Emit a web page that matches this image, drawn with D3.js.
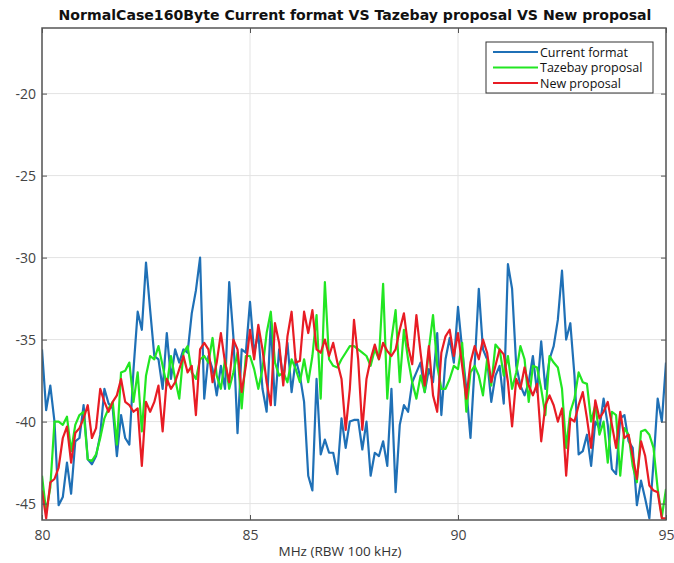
<!DOCTYPE html>
<html>
<head>
<meta charset="utf-8">
<script src="https://cdn.jsdelivr.net/npm/d3@7"></script>
<style>
  html, body { margin: 0; padding: 0; background: #fff; }
  svg { display: block; }
</style>
</head>
<body>
<div id="chart"></div>
<script>
// ---- Data (frequency 80..95 MHz, step 0.1 MHz) ----
const freqStart = 80;
const freqStep = 0.1;
const xTicks = [80, 85, 90, 95];
const yTicks = [-45, -40, -35, -30, -25, -20];
const xDomain = [80, 95];
const yDomain = [-46, -16];
const seriesNames = ["Current format", "Tazebay proposal", "New proposal"];
const seriesColors = ["#1f70b6", "#22e622", "#e81c24"];

const currentFormat = [
  -35.6,-39.3,-37.8,-40.0,-45.1,-44.6,-42.5,-44.4,-41.2,-41.0,
  -39.0,-42.3,-42.6,-42.1,-40.8,-38.0,-38.9,-39.2,-42.1,-39.6,
  -41.0,-41.4,-36.8,-33.3,-34.4,-30.3,-33.2,-36.0,-36.2,-38.0,
  -34.6,-37.4,-35.6,-36.4,-35.6,-35.8,-33.4,-32.0,-30.0,-38.6,
  -36.0,-36.8,-38.4,-36.6,-38.0,-31.5,-34.8,-40.7,-35.6,-35.8,
  -32.7,-35.8,-34.6,-38.0,-39.4,-33.9,-39.0,-35.6,-37.4,-35.2,
  -38.2,-36.2,-37.2,-38.8,-43.3,-44.2,-37.4,-42.0,-41.1,-41.9,
  -41.9,-43.2,-39.8,-41.6,-40.0,-39.9,-39.9,-41.7,-40.0,-43.3,
  -41.9,-42.1,-41.2,-42.7,-38.0,-44.3,-40.2,-39.0,-39.4,-37.6,
  -37.0,-36.4,-38.2,-36.8,-37.6,-34.6,-39.6,-36.2,-34.9,-36.4,
  -33.0,-35.6,-38.0,-41.0,-36.6,-31.9,-35.6,-36.2,-38.8,-37.2,
  -36.6,-38.9,-30.4,-31.9,-36.6,-37.8,-38.4,-37.6,-36.0,-38.2,
  -35.1,-38.0,-36.2,-35.4,-33.8,-30.8,-35.0,-34.0,-37.2,-42.0,
  -41.8,-40.8,-42.7,-40.0,-40.4,-38.6,-40.2,-42.9,-43.2,-39.8,
  -39.6,-41.2,-41.6,-45.1,-43.6,-44.7,-45.9,-42.5,-38.6,-40.0,
  -36.4
];
const tazebayProposal = [
  -43.3,-45.5,-44.0,-40.0,-40.0,-40.2,-39.7,-41.8,-40.2,-39.6,
  -39.4,-42.3,-42.4,-42.0,-41.0,-39.8,-39.2,-38.8,-41.4,-37.0,
  -36.9,-36.4,-38.8,-37.0,-40.6,-37.2,-36.0,-36.2,-35.4,-36.6,
  -37.8,-36.0,-37.4,-38.6,-35.8,-35.4,-37.0,-37.4,-36.2,-36.0,
  -36.4,-34.9,-37.2,-38.0,-36.2,-38.0,-37.0,-35.8,-39.2,-36.0,
  -36.0,-36.8,-38.0,-36.8,-34.6,-33.3,-36.4,-37.2,-37.0,-37.6,
  -36.2,-36.8,-37.6,-36.2,-37.6,-36.0,-33.5,-38.6,-31.5,-36.2,
  -36.6,-36.7,-36.2,-35.8,-35.4,-35.4,-35.6,-35.8,-36.0,-36.6,
  -35.6,-36.2,-31.6,-38.6,-35.0,-33.2,-37.6,-34.4,-36.2,-37.6,
  -38.6,-37.2,-38.2,-35.6,-33.5,-36.6,-38.0,-38.0,-37.4,-36.6,
  -36.8,-35.2,-39.4,-37.0,-36.6,-37.2,-38.4,-36.2,-37.8,-35.3,
  -35.6,-37.2,-36.0,-38.0,-37.0,-35.4,-36.2,-38.8,-36.6,-36.7,
  -38.0,-39.6,-36.0,-36.4,-36.7,-38.0,-41.6,-39.4,-38.6,-37.0,
  -37.6,-37.7,-40.0,-39.0,-40.8,-40.0,-42.5,-39.4,-39.6,-43.3,
  -40.4,-40.8,-42.7,-43.7,-40.6,-40.5,-40.8,-41.6,-44.1,-45.8,
  -44.1
];
const newProposal = [
  -44.2,-45.9,-43.7,-43.5,-42.8,-41.0,-40.3,-42.5,-40.7,-40.4,
  -39.8,-39.0,-41.0,-40.4,-38.0,-38.8,-39.4,-38.8,-38.4,-37.4,
  -38.8,-39.0,-39.4,-39.2,-42.7,-38.8,-39.4,-38.8,-37.8,-40.6,
  -37.4,-38.0,-37.6,-36.8,-36.0,-37.0,-36.6,-39.6,-35.6,-35.2,
  -35.6,-37.6,-36.4,-34.6,-36.4,-37.6,-35.0,-35.6,-38.2,-36.6,
  -34.4,-36.2,-34.1,-35.6,-37.6,-39.0,-34.0,-35.2,-37.8,-34.8,
  -33.3,-36.4,-36.3,-33.3,-34.6,-33.2,-35.6,-35.8,-35.0,-36.0,
  -35.2,-36.4,-37.4,-40.5,-38.0,-33.8,-36.2,-40.5,-37.4,-36.2,
  -35.3,-36.2,-35.2,-35.7,-36.0,-35.6,-34.4,-33.4,-35.4,-36.5,
  -33.5,-35.8,-37.8,-35.4,-38.4,-39.4,-35.8,-34.8,-34.4,-36.0,
  -34.6,-36.6,-38.6,-36.4,-35.4,-36.2,-35.0,-35.8,-37.6,-36.6,
  -35.6,-35.9,-37.6,-40.3,-37.4,-38.0,-36.7,-37.8,-38.4,-37.7,
  -41.2,-39.0,-38.4,-39.0,-40.0,-39.2,-43.3,-39.8,-40.0,-39.0,
  -38.2,-39.8,-41.6,-38.7,-39.8,-39.4,-38.8,-40.2,-41.6,-39.4,
  -41.0,-40.8,-42.1,-43.5,-41.2,-42.1,-43.9,-44.2,-44.3,-45.9,
  -45.9
];
const allSeries = [currentFormat, tazebayProposal, newProposal];

// ---- Layout ----
const W = 674, H = 563;
const margin = { left: 42, right: 8, top: 28, bottom: 43 };
const iw = W - margin.left - margin.right;
const ih = H - margin.top - margin.bottom;

const svg = d3.select("#chart").append("svg")
  .attr("width", W).attr("height", H)
  .style("font-family", "'Open Sans', 'Liberation Sans', sans-serif");

const x = d3.scaleLinear().domain(xDomain).range([0, iw]);
const y = d3.scaleLinear().domain(yDomain).range([ih, 0]);

const g = svg.append("g").attr("transform", `translate(${margin.left},${margin.top})`);

// grid
g.append("g").selectAll("line.gx").data(xTicks).join("line")
  .attr("x1", d => x(d)).attr("x2", d => x(d)).attr("y1", 0).attr("y2", ih)
  .attr("stroke", "#e3e3e3").attr("stroke-width", 1);
g.append("g").selectAll("line.gy").data(yTicks).join("line")
  .attr("x1", 0).attr("x2", iw).attr("y1", d => y(d)).attr("y2", d => y(d))
  .attr("stroke", "#e3e3e3").attr("stroke-width", 1);

// clip
svg.append("defs").append("clipPath").attr("id", "clip")
  .append("rect").attr("x", 0).attr("y", 0).attr("width", iw).attr("height", ih);

const line = d3.line()
  .x((d, i) => x(freqStart + i * freqStep))
  .y(d => y(d));

const lines = g.append("g").attr("clip-path", "url(#clip)");
allSeries.forEach((s, k) => {
  lines.append("path").datum(s)
    .attr("fill", "none")
    .attr("stroke", seriesColors[k])
    .attr("stroke-width", 2.2)
    .attr("stroke-linejoin", "round")
    .attr("d", line);
});

// axes (ticks inward)
const xAxis = d3.axisBottom(x).tickValues(xTicks).tickSizeInner(-5).tickSizeOuter(0).tickPadding(10).tickFormat(d3.format("d"));
const yAxis = d3.axisLeft(y).tickValues(yTicks).tickSizeInner(-5).tickSizeOuter(0).tickPadding(6).tickFormat(d => "-" + Math.abs(d));

const gx = g.append("g").attr("transform", `translate(0,${ih})`).call(xAxis);
const gy = g.append("g").call(yAxis);
const gxTop = g.append("g").call(d3.axisTop(x).tickValues(xTicks).tickSizeInner(-5).tickSizeOuter(0).tickFormat(""));
const gyRight = g.append("g").attr("transform", `translate(${iw},0)`).call(d3.axisRight(y).tickValues(yTicks).tickSizeInner(-5).tickSizeOuter(0).tickFormat(""));

[gx, gy, gxTop, gyRight].forEach(a => {
  a.select(".domain").remove();
  a.selectAll(".tick line").attr("stroke", "#555").attr("stroke-width", 1);
  a.selectAll(".tick text").attr("fill", "#444").style("font-size", "14px")
    .style("font-family", "'Open Sans', sans-serif");
});

// box
g.append("rect").attr("x", 0).attr("y", 0).attr("width", iw).attr("height", ih)
  .attr("fill", "none").attr("stroke", "#555").attr("stroke-width", 1.5);

// title
svg.append("text")
  .attr("x", 355).attr("y", 20)
  .attr("text-anchor", "middle")
  .style("font-family", "'DejaVu Sans', sans-serif")
  .style("font-weight", "bold").style("font-size", "14.1px")
  .attr("fill", "#111")
  .text("NormalCase160Byte Current format VS Tazebay proposal VS New proposal");

// x label
svg.append("text")
  .attr("x", 340).attr("y", 556)
  .attr("text-anchor", "middle")
  .style("font-size", "13.5px").attr("fill", "#333")
  .text("MHz (RBW 100 kHz)");

// legend
const lg = svg.append("g").attr("transform", "translate(486,42)");
lg.append("rect").attr("x", 0).attr("y", 0).attr("width", 167).attr("height", 51)
  .attr("fill", "#fff").attr("stroke", "#333").attr("stroke-width", 1);
seriesNames.forEach((name, k) => {
  const yy = 10 + k * 15.5;
  lg.append("line").attr("x1", 7).attr("x2", 52).attr("y1", yy).attr("y2", yy)
    .attr("stroke", seriesColors[k]).attr("stroke-width", 2);
  lg.append("text").attr("x", 54).attr("y", yy + 4.5)
    .style("font-size", "12.5px").attr("fill", "#111")
    .text(name);
});
</script>
</body>
</html>
